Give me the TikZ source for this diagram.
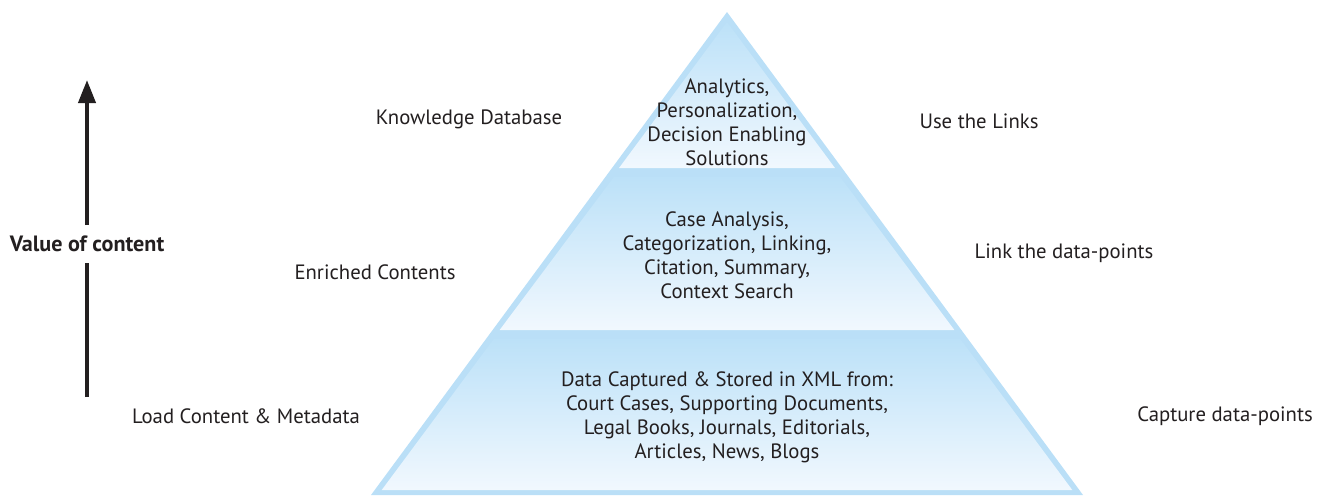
\documentclass[tikz,border=0pt]{standalone}
\usepackage{fontspec}
\setmainfont{PT Sans}
\usetikzlibrary{arrows.meta}
\definecolor{tierblue}{RGB}{186,223,247}
\definecolor{tiertop}{RGB}{188,225,248}
\definecolor{tierbot}{RGB}{241,248,254}
\definecolor{inkdark}{RGB}{35,31,32}
\begin{document}
\begin{tikzpicture}[x=0.02cm,y=-0.02cm,
  lbl/.style={font=\fontsize{11.8}{13.6}\selectfont, text=inkdark, align=center, inner sep=0pt},
  tiertext/.style={lbl},
  inset/.style={top color=tiertop, bottom color=tierbot, draw=none}]
\useasboundingbox (0,0) rectangle (1331,495);
% outer pyramid body
\fill[tierblue] (727,12) -- (1083,495) -- (371,495) -- cycle;
% inner shaded panels of the three tiers (inset from the outer edges)
% half width at image row y: 0.737*(y-12)
\shade[inset] (727,22) -- (727+0.737*156-7,168) -- (727-0.737*156+7,168) -- cycle;
\shade[inset] (727-0.737*163+7,177) -- (727+0.737*163-7,177) -- (727+0.737*318-7,330) -- (727-0.737*318+7,330) -- cycle;
\shade[inset] (727-0.737*326+7,339) -- (727+0.737*326-7,339) -- (727+0.737*478-7,490) -- (727-0.737*478+7,490) -- cycle;
% tier contents
\node[tiertext] (top) at (727,122) {Analytics,\\Personalization,\\Decision Enabling\\Solutions};
\node[tiertext] (mid) at (727,255) {Case Analysis,\\Categorization, Linking,\\Citation, Summary,\\Context Search};
\node[tiertext] (base) at (727,417) {Data Captured \& Stored in XML from:\\Court Cases, Supporting Documents,\\Legal Books, Journals, Editorials,\\Articles, News, Blogs};
% left labels
\node[lbl] (kdb) at (469,119) {Knowledge Database};
\node[lbl] (enr) at (375,272) {Enriched Contents};
\node[lbl] (load) at (246,416) {Load Content \& Metadata};
% right labels
\node[lbl] (use) at (979,121) {Use the Links};
\node[lbl] (link) at (1064,253) {Link the data-points};
\node[lbl] (cap) at (1225,416) {Capture data-points};
% value axis
\node[lbl, font=\fontsize{12.6}{14}\selectfont\bfseries, minimum height=0.74cm] (value) at (87,244) {Value of content};
\coordinate (axislow) at (87,397);
\coordinate (axishigh) at (87,80);
\draw[inkdark, line width=0.08cm] (axislow) -- (value.south);
\draw[inkdark, line width=0.08cm, -{Triangle[width=0.34cm,length=0.46cm]}] (value.north) -- (axishigh);
\end{tikzpicture}
\end{document}
